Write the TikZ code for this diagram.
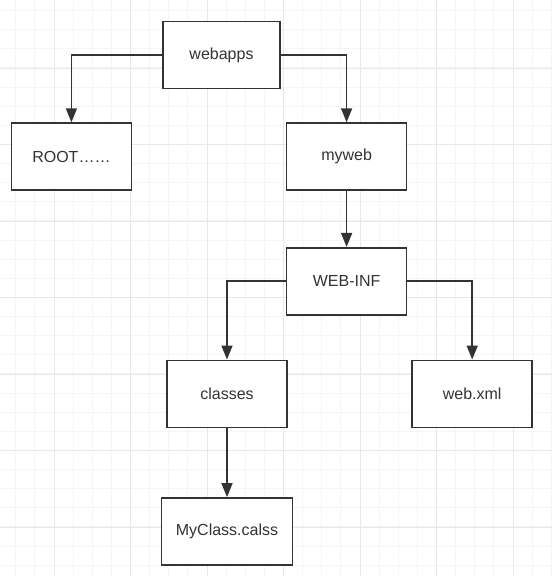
\documentclass[tikz,border=0pt]{standalone}
\usepackage{fontspec}
\setmainfont{Liberation Sans}
\usetikzlibrary{positioning,arrows.meta}

\begin{document}
\begin{tikzpicture}[
    x=1pt, y=1pt,
    dirbox/.style={rectangle, draw=black!80, fill=white, line width=1.6pt, minimum width=120pt, minimum height=67pt, font=\fontsize{16}{19}\selectfont, text=black!80},
    link/.style={draw=black!80, line width=1.6pt, -{Triangle[length=14pt,width=11pt]}},
    minorline/.style={gray!8, line width=1pt},
    majorline/.style={gray!18, line width=1pt},
]
    %background
    \fill[white] (0,0) rectangle (552,-576);
    \useasboundingbox (0,0) rectangle (552,-576);
    \foreach \k in {0,...,28} \draw[minorline] (15.75+19.125*\k,0) -- ++(0,-576);
    \foreach \k in {0,...,29} \draw[minorline] (0,-10.6-19.125*\k) -- ++(552,0);
    \foreach \k in {0,...,6} \draw[majorline] (54+76.5*\k,0) -- ++(0,-576);
    \foreach \k in {0,...,6} \draw[majorline] (0,-68-76.5*\k) -- ++(552,0);

    %node
    \node[dirbox, minimum width=117pt] (webapps) at (221.5,-55) {webapps};
    \node[dirbox] (root) [below left=33pt and 30pt of webapps] {ROOT……};
    \node[dirbox] (myweb) [below right=33pt and 5pt of webapps] {myweb};
    \node[dirbox] (webinf) [below=56pt of myweb] {WEB-INF};
    \node[dirbox] (classes) [below left=44pt and -2pt of webinf] {classes};
    \node[dirbox] (webxml) [below right=44pt and 4pt of webinf] {web.xml};
    \node[dirbox, minimum width=131pt] (myclass) [below=69pt of classes] {MyClass.calss};

    %lines
    \draw[link] (webapps.west) -| (root.north);
    \draw[link] (webapps.east) -| (myweb.north);
    \draw[link] (myweb) -- (webinf);
    \draw[link] (webinf.west) -| (classes.north);
    \draw[link] (webinf.east) -| (webxml.north);
    \draw[link] (classes) -- (myclass);
\end{tikzpicture}
\end{document}
